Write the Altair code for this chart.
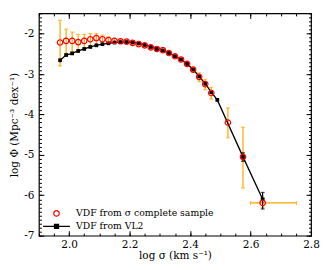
import altair as alt
import pandas as pd

FONT = "DejaVu Serif"

# ---- data ----
series_names = ["VDF from σ complete sample", "VDF from VL2"]

red_sigma = [1.97, 1.99, 2.01, 2.03, 2.05, 2.07, 2.09, 2.11, 2.13, 2.15, 2.17, 2.19, 2.21, 2.23,
             2.25, 2.27, 2.29, 2.31, 2.33, 2.35, 2.37, 2.39, 2.41, 2.43, 2.45, 2.47, 2.525, 2.575, 2.64]
red_phi = [-2.22, -2.18, -2.18, -2.21, -2.18, -2.14, -2.11, -2.14, -2.16, -2.18, -2.19, -2.20, -2.23, -2.26,
           -2.29, -2.34, -2.38, -2.41, -2.48, -2.56, -2.64, -2.75, -2.89, -3.07, -3.25, -3.47, -4.20, -5.05, -6.19]
red_lo = [-2.80, -2.49, -2.45, -2.41, -2.37, -2.33, -2.29, -2.25, -2.22, -2.22, -2.23, -2.24, -2.27, -2.30,
          -2.33, -2.38, -2.42, -2.45, -2.52, -2.60, -2.69, -2.81, -2.95, -3.19, -3.39, -3.62, -4.58, -5.82, -6.30]
red_hi = [-1.67, -1.89, -1.96, -2.02, -2.02, -2.00, -2.00, -2.04, -2.08, -2.12, -2.14, -2.16, -2.19, -2.22,
          -2.25, -2.30, -2.34, -2.37, -2.44, -2.52, -2.59, -2.69, -2.83, -2.97, -3.13, -3.33, -3.84, -4.32, -6.08]

# horizontal error on the last point
xerr_phi = [-6.19]
xerr_lo = [2.60]
xerr_hi = [2.752]

vl2_sigma = [1.97, 1.99, 2.01, 2.03, 2.05, 2.07, 2.09, 2.11, 2.13, 2.15, 2.17, 2.19, 2.21, 2.23,
             2.25, 2.27, 2.29, 2.31, 2.33, 2.35, 2.37, 2.39, 2.41, 2.43, 2.45, 2.47, 2.49, 2.575, 2.64]
vl2_phi = [-2.66, -2.53, -2.49, -2.43, -2.38, -2.33, -2.29, -2.26, -2.24, -2.22, -2.21, -2.21, -2.22, -2.24,
           -2.28, -2.33, -2.38, -2.42, -2.48, -2.56, -2.64, -2.75, -2.89, -3.06, -3.24, -3.45, -3.64, -5.05, -6.10]

vl2_err_sigma = [2.575, 2.64]
vl2_err_lo = [-5.16, -6.34]
vl2_err_hi = [-4.95, -5.93]

x_major = [2.0, 2.2, 2.4, 2.6, 2.8]
x_minor = [round(1.9 + 0.05 * i, 2) for i in range(19)]
y_major = [-7, -6, -5, -4, -3, -2]
y_minor = [round(-7 + 0.1 * i, 1) for i in range(56)]

# ---- tables ----
red_df = pd.DataFrame({"sigma": red_sigma, "phi": red_phi, "lo": red_lo, "hi": red_hi,
                       "series": series_names[0]})
red_caps = pd.DataFrame({"sigma": red_sigma + red_sigma, "phi": red_lo + red_hi})
xerr_df = pd.DataFrame({"phi": xerr_phi, "lo": xerr_lo, "hi": xerr_hi})
xerr_caps = pd.DataFrame({"sigma": xerr_lo + xerr_hi, "phi": xerr_phi + xerr_phi})
vl2_df = pd.DataFrame({"sigma": vl2_sigma, "phi": vl2_phi})
vl2_err = pd.DataFrame({"sigma": vl2_err_sigma, "lo": vl2_err_lo, "hi": vl2_err_hi})
vl2_caps = pd.DataFrame({"sigma": vl2_err_sigma + vl2_err_sigma, "phi": vl2_err_lo + vl2_err_hi})

xscale = alt.Scale(domain=[1.9, 2.8], nice=False, zero=False)
yscale = alt.Scale(domain=[-7, -1.5], nice=False, zero=False)

ORANGE = "#FFA500"


def tick_axis(orient, values, size):
    return alt.Axis(orient=orient, values=values, ticks=True, tickSize=size, offset=-size,
                    labels=False, domain=False, grid=False, title=None,
                    tickColor="black", tickWidth=1)


x_lab = alt.Axis(orient="bottom", values=x_major, format=".1f", ticks=False, domain=False, grid=False,
                 title="log σ (km s⁻¹)", labelFont=FONT, labelFontSize=10.5, titleFont=FONT,
                 titleFontSize=10.5, titleFontWeight="normal", labelPadding=4, titlePadding=0,
                 labelColor="black", titleColor="black", labelFlush=False)
y_lab = alt.Axis(orient="left", values=y_major, labelExpr="'' + datum.value", ticks=False, domain=False,
                 grid=False, title="log Φ (Mpc⁻³ dex⁻¹)", labelFont=FONT, labelFontSize=10.5,
                 titleFont=FONT, titleFontSize=10.5, titleFontWeight="normal", labelPadding=5,
                 titlePadding=4, labelColor="black", titleColor="black", labelFlush=False)

legend_path = "M-4.9,0H4.9M-0.75,-0.75H0.75V0.75H-0.75ZM-0.4,-0.4H0.4V0.4H-0.4Z"
legend = alt.Legend(orient="none", legendX=13, legendY=196, title=None, direction="vertical",
                    symbolSize=30, symbolStrokeWidth=1.2, labelFont=FONT, labelFontSize=9.3,
                    labelColor="black", labelOffset=15, rowPadding=3, padding=0, labelLimit=300)

orange_v = alt.Chart(red_df).mark_rule(color=ORANGE, strokeWidth=1.2).encode(
    x=alt.X("sigma:Q", scale=xscale, axis=x_lab),
    y=alt.Y("lo:Q", scale=yscale, axis=y_lab),
    y2="hi:Q",
)
orange_caps = alt.Chart(red_caps).mark_tick(orient="horizontal", color=ORANGE, size=4, thickness=1.2).encode(
    x=alt.X("sigma:Q", scale=xscale, axis=tick_axis("bottom", x_major, 5)),
    y=alt.Y("phi:Q", scale=yscale, axis=tick_axis("left", y_major, 5)),
)
orange_h = alt.Chart(xerr_df).mark_rule(color=ORANGE, strokeWidth=1.2).encode(
    x=alt.X("lo:Q", scale=xscale, axis=tick_axis("bottom", x_minor, 2.5)),
    x2="hi:Q",
    y=alt.Y("phi:Q", scale=yscale, axis=tick_axis("left", y_minor, 2.5)),
)
orange_hcaps = alt.Chart(xerr_caps).mark_tick(orient="vertical", color=ORANGE, size=4, thickness=1.2).encode(
    x=alt.X("sigma:Q", scale=xscale, axis=tick_axis("top", x_major, 5)),
    y=alt.Y("phi:Q", scale=yscale, axis=tick_axis("right", y_major, 5)),
)
black_line = alt.Chart(vl2_df).mark_line(color="black", strokeWidth=1.3).encode(
    x=alt.X("sigma:Q", scale=xscale, axis=tick_axis("top", x_minor, 2.5)),
    y=alt.Y("phi:Q", scale=yscale, axis=tick_axis("right", y_minor, 2.5)),
)
black_sq = alt.Chart(vl2_df).mark_square(color="black", size=14, opacity=1).encode(
    x=alt.X("sigma:Q", scale=xscale, axis=None),
    y=alt.Y("phi:Q", scale=yscale, axis=None),
)
black_err = alt.Chart(vl2_err).mark_rule(color="black", strokeWidth=1.2).encode(
    x=alt.X("sigma:Q", scale=xscale, axis=None),
    y=alt.Y("lo:Q", scale=yscale, axis=None),
    y2="hi:Q",
)
black_caps = alt.Chart(vl2_caps).mark_tick(orient="horizontal", color="black", size=4, thickness=1.2).encode(
    x=alt.X("sigma:Q", scale=xscale, axis=None),
    y=alt.Y("phi:Q", scale=yscale, axis=None),
)
red_pts = alt.Chart(red_df).mark_point(filled=False, size=30, strokeWidth=1.2, opacity=1).encode(
    x=alt.X("sigma:Q", scale=xscale, axis=None),
    y=alt.Y("phi:Q", scale=yscale, axis=None),
    color=alt.Color("series:N", scale=alt.Scale(domain=series_names, range=["red", "black"]), legend=legend),
    shape=alt.Shape("series:N", scale=alt.Scale(domain=series_names, range=["circle", legend_path]),
                    legend=legend),
)

chart = alt.layer(
    orange_v, orange_caps, orange_h, orange_hcaps, black_line, black_sq, black_err, black_caps, red_pts
).resolve_axis(x="independent", y="independent").properties(
    width=273, height=223,
    autosize=alt.AutoSizeParams(type="none"),
    padding={"left": 31, "top": 5, "right": 9, "bottom": 26},
    background="white",
).configure_view(stroke="black", strokeWidth=1.2)

chart.save("out.html", embed_options={"renderer": "svg", "actions": False})
